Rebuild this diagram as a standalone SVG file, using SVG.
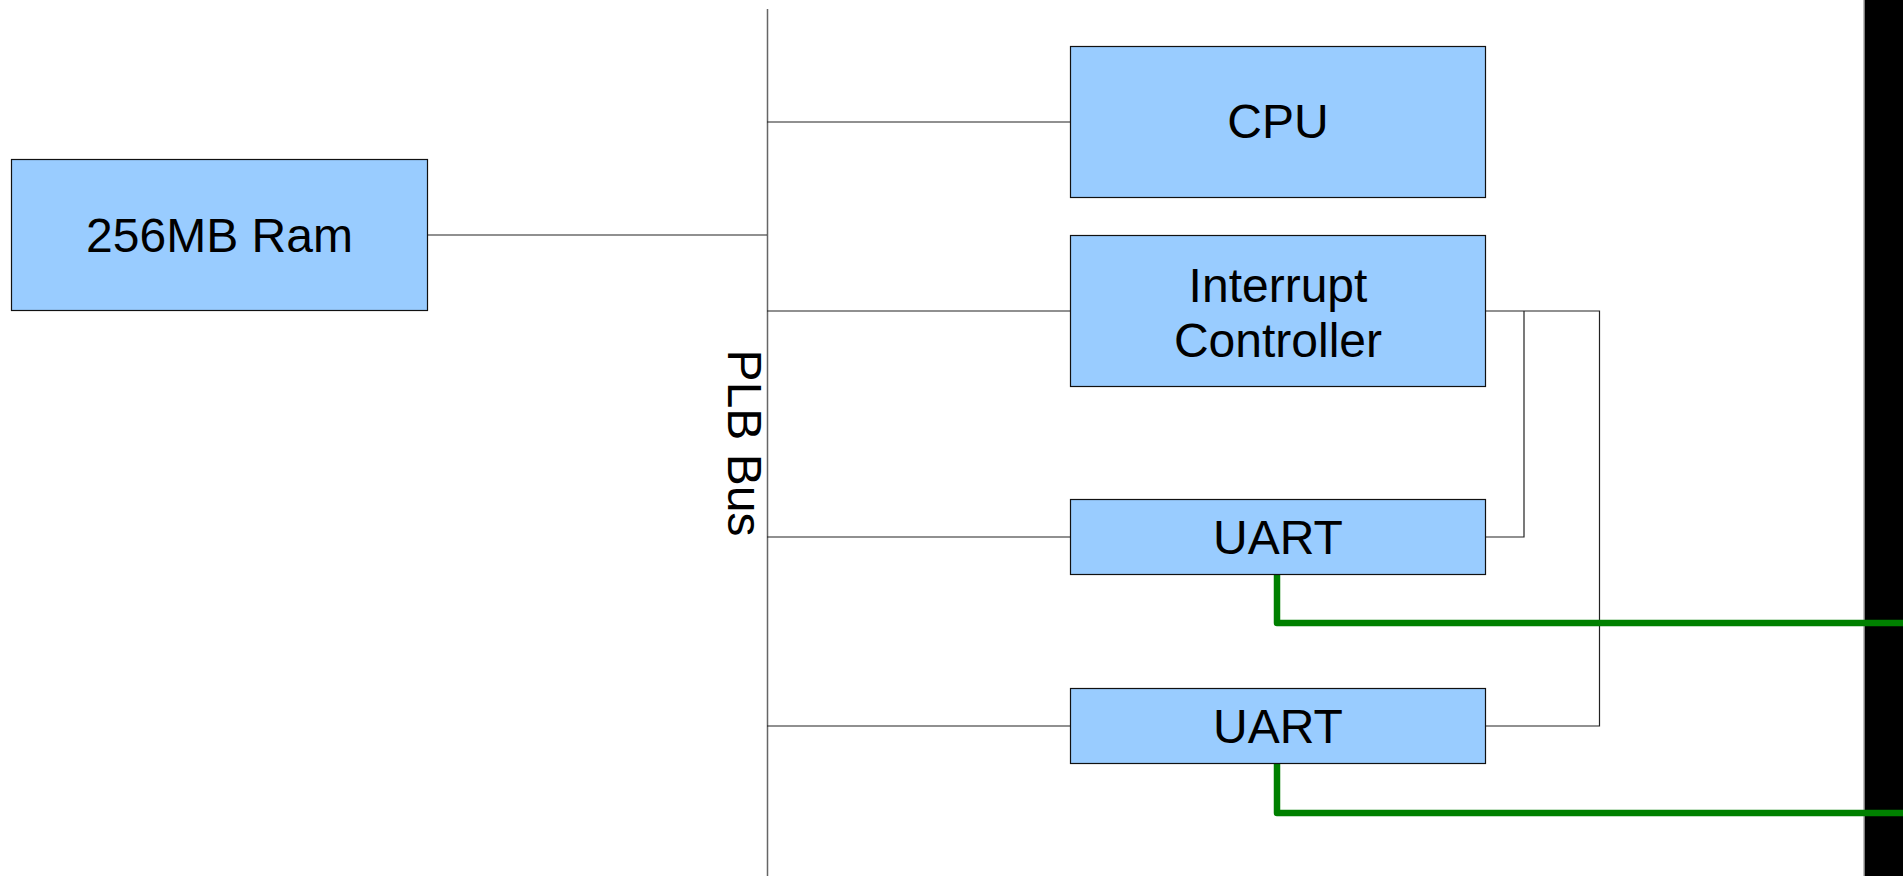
<svg xmlns="http://www.w3.org/2000/svg" width="1903" height="876" viewBox="0 0 1903 876">
<style>
.box{fill:#99ccff;stroke:#111;stroke-width:1.2}
.lbl{font-family:"Liberation Sans",Arial,sans-serif;font-size:48px;fill:#000;text-anchor:middle}
.wire{fill:none;stroke:#222;stroke-width:1.2}
.bus{fill:none;stroke:#666;stroke-width:1.5}
.serial{fill:none;stroke:#008000;stroke-width:6.5;stroke-linejoin:round}
</style>
<rect x="0" y="0" width="1903" height="876" fill="#fff"/>
<g id="edge-bar">
<rect x="1864" y="0" width="39" height="876" fill="#000"/>
<line x1="1864" y1="0" x2="1864" y2="876" stroke="#aaa" stroke-width="1.5"/>
</g>
<g id="connectors">
<line class="bus" x1="767.5" y1="9" x2="767.5" y2="876"/>
<line class="wire" x1="427" y1="235" x2="767" y2="235"/>
<line class="wire" x1="767" y1="122" x2="1070" y2="122"/>
<line class="wire" x1="767" y1="311" x2="1070" y2="311"/>
<line class="wire" x1="767" y1="537" x2="1070" y2="537"/>
<line class="wire" x1="767" y1="726" x2="1070" y2="726"/>
<path class="wire" d="M1485,311 H1599.5 V726 H1485"/>
<path class="wire" d="M1524,311 V537 H1485"/>
<path class="serial" d="M1277,575 V623 H1903"/>
<path class="serial" d="M1277,764 V813 H1903"/>
</g>
<g id="bus-label">
<text class="lbl" transform="translate(728,443) rotate(90)">PLB Bus</text>
</g>
<g id="ram">
<rect class="box" x="11.5" y="159.5" width="416" height="151"/>
<text class="lbl" x="219.5" y="252">256MB Ram</text>
</g>
<g id="cpu">
<rect class="box" x="1070.5" y="46.5" width="415" height="151"/>
<text class="lbl" x="1278" y="138">CPU</text>
</g>
<g id="interrupt-controller">
<rect class="box" x="1070.5" y="235.5" width="415" height="151"/>
<text class="lbl" x="1278" y="302">Interrupt</text>
<text class="lbl" x="1278" y="357">Controller</text>
</g>
<g id="uart1">
<rect class="box" x="1070.5" y="499.5" width="415" height="75"/>
<text class="lbl" x="1278" y="554">UART</text>
</g>
<g id="uart2">
<rect class="box" x="1070.5" y="688.5" width="415" height="75"/>
<text class="lbl" x="1278" y="743">UART</text>
</g>
</svg>
